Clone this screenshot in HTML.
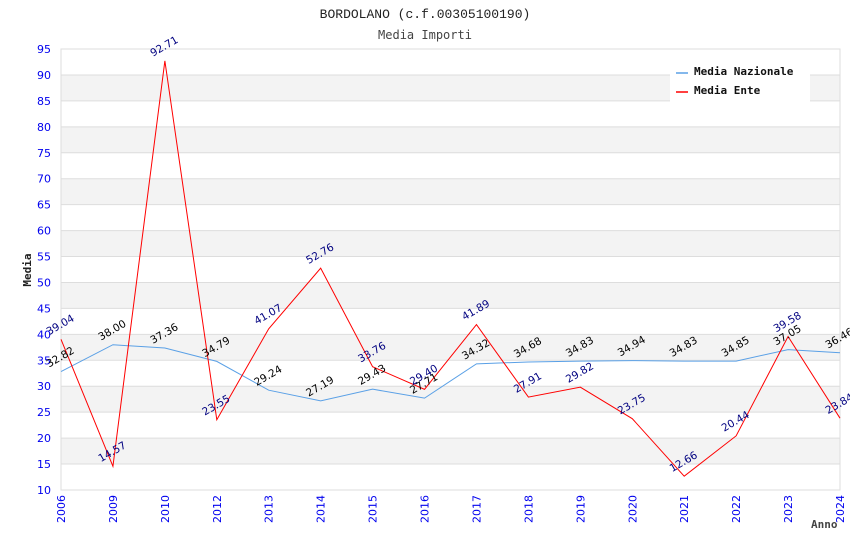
<!DOCTYPE html>
<html><head><meta charset="utf-8"><style>
body{margin:0;background:#fff;width:850px;height:550px;overflow:hidden}
svg{display:block}
</style></head><body>
<svg id="chart" width="850" height="550" xmlns="http://www.w3.org/2000/svg">
<text x="425" y="18" text-anchor="middle" font-family="Liberation Mono, monospace" font-size="13" fill="#222">BORDOLANO (c.f.00305100190)</text>
<text x="425" y="39" text-anchor="middle" font-family="DejaVu Sans Mono, monospace" font-size="12" fill="#444">Media Importi</text>
<g id="bands"></g><g id="grid"></g><g id="yticks"></g><g id="xticks"></g>
<rect x="61" y="49" width="779" height="441" fill="none" stroke="#ddd"/>
<g id="series"></g><g id="labels"></g>
<text x="31" y="270" transform="rotate(-90 31 270)" text-anchor="middle" font-family="DejaVu Sans Mono, monospace" font-size="11" font-weight="bold" fill="#222">Media</text>
<text x="811" y="528" font-family="DejaVu Sans Mono, monospace" font-size="11" font-weight="bold" fill="#444">Anno</text>
<g>
<rect x="670" y="60" width="140" height="42" fill="#fff"/>
<line x1="676" y1="73" x2="688" y2="73" stroke="#5aa0e6" stroke-width="1.5"/>
<text x="694" y="75" font-family="DejaVu Sans Mono, monospace" font-size="11" font-weight="bold" fill="#111">Media Nazionale</text>
<line x1="676" y1="92" x2="688" y2="92" stroke="#ff0000" stroke-width="1.5"/>
<text x="694" y="94" font-family="DejaVu Sans Mono, monospace" font-size="11" font-weight="bold" fill="#111">Media Ente</text>
</g>
</svg>
<script>
const years=["2006","2009","2010","2012","2013","2014","2015","2016","2017","2018","2019","2020","2021","2022","2023","2024"];
const nazionale=[32.82,38.00,37.36,34.79,29.24,27.19,29.43,27.71,34.32,34.68,34.83,34.94,34.83,34.85,37.05,36.46];
const ente=[39.04,14.57,92.71,23.55,41.07,52.76,33.76,29.40,41.89,27.91,29.82,23.75,12.66,20.44,39.58,23.84];
const yTicks=[10,15,20,25,30,35,40,45,50,55,60,65,70,75,80,85,90,95];
const NS="http://www.w3.org/2000/svg";
const X0=61,X1=840,Y0=490,Y1=49,YMIN=10,YMAX=95;
const xs=i=>X0+i*(X1-X0)/(years.length-1);
const ys=v=>Y0-(v-YMIN)*(Y0-Y1)/(YMAX-YMIN);
function mk(tag,attrs,parent){const e=document.createElementNS(NS,tag);for(const k in attrs)e.setAttribute(k,attrs[k]);document.getElementById(parent).appendChild(e);return e;}
for(let i=0;i<yTicks.length-1;i++){
  if(i%2===1){const r=mk('rect',{x:X0,y:ys(yTicks[i+1]),width:X1-X0,height:ys(yTicks[i])-ys(yTicks[i+1]),fill:'#f3f3f3'},'bands');
  
  }
}
yTicks.forEach(t=>{
  const l=mk('line',{x1:X0,x2:X1,y1:ys(t),y2:ys(t),stroke:'#ddd'},'grid');
  
  
  const tx=mk('text',{x:51,y:ys(t)+4,'text-anchor':'end','font-family':'DejaVu Sans, sans-serif','font-size':'11',fill:'#0000ee'},'yticks');
  tx.textContent=t;
  
  
});
years.forEach((y,i)=>{
  const x=xs(i)+4;
  const tx=mk('text',{x:x,y:495,transform:`rotate(-90 ${x} 495)`,'text-anchor':'end','font-family':'DejaVu Sans, sans-serif','font-size':'11',fill:'#0000ee'},'xticks');
  tx.textContent=y;
  
  
});
function series(data,color,name,lab){
  const p=mk('polyline',{points:data.map((v,i)=>xs(i)+','+ys(v)).join(' '),fill:'none',stroke:color,'stroke-width':'1'},'series');
  
  
  data.forEach((v,i)=>{
    const x=xs(i)-12,y=ys(v)-4;
    const t=mk('text',{x:x,y:y,transform:`rotate(-30 ${x} ${y})`,'font-family':'DejaVu Sans, sans-serif','font-size':'10.5',fill:lab},'labels');
    t.textContent=v.toFixed(2);
    
    
  });
}
series(nazionale,'#5aa0e6','nazionale-line','#000');
series(ente,'#ff0000','ente-line','#000080');
</script>
</body></html>
